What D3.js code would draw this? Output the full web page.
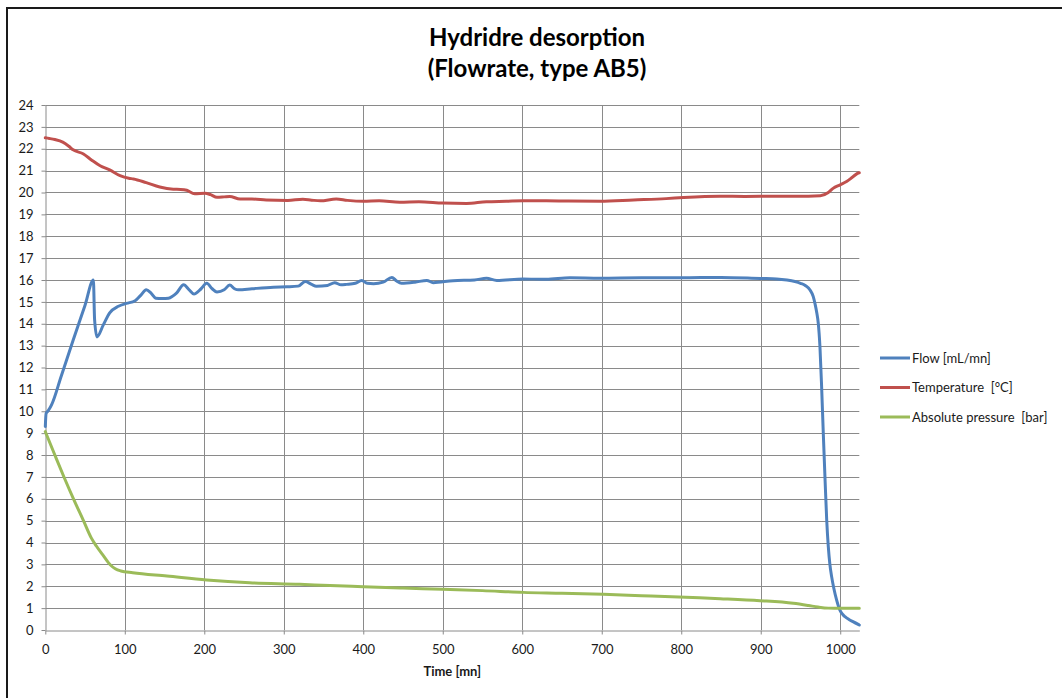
<!DOCTYPE html>
<html>
<head>
<meta charset="utf-8">
<script src="https://cdn.jsdelivr.net/npm/d3@7"></script>
<style>
  html, body { margin: 0; padding: 0; background: #fff; }
  svg { display: block; }
  text { font-family: Lato, "Noto Sans", sans-serif; }
  .legend-label { white-space: pre; }
</style>
</head>
<body>
<svg id="chart" width="1062" height="698"></svg>
<script>
// ---- data -------------------------------------------------------------
const seriesNames = ["Flow [mL/mn]", "Temperature  [°C]", "Absolute pressure  [bar]"];
const seriesColors = ["#4F81BD", "#C0504D", "#9BBB59"];

// Flow [mL/mn] : [time (mn), value]
const flowData = [
  [0,9.3],[1,9.9],[3,10.0],[5,10.1],[8,10.3],[20,11.6],[35,13.25],[50,14.85],
  [60.5,16.0],[62,14.2],[65,13.4],[73,13.95],[81,14.5],[92,14.8],[102,14.93],
  [113,15.05],[120,15.3],[127,15.55],[133,15.4],[139,15.17],[147,15.15],[155,15.17],
  [165,15.4],[174,15.78],[181,15.55],[187,15.36],[196,15.6],[203,15.85],[210,15.6],
  [216,15.45],[225,15.55],[232,15.77],[238,15.6],[243,15.55],[260,15.6],[287,15.67],
  [304,15.69],[318,15.72],[327,15.93],[335,15.8],[341,15.72],[355,15.75],[364,15.88],
  [372,15.78],[379,15.8],[390,15.85],[398,15.98],[405,15.85],[413,15.83],[425,15.9],
  [436,16.12],[442,15.95],[448,15.85],[465,15.9],[480,15.98],[488,15.88],[513,15.97],
  [540,16.0],[555,16.08],[568,15.98],[601,16.05],[630,16.03],[660,16.1],[698,16.08],
  [750,16.1],[800,16.1],[850,16.12],[900,16.07],[920,16.05],[933,16.0],[943,15.93],
  [950,15.85],[956,15.75],[962,15.54],[966,15.25],[968.2,14.93],[970.5,14.5],
  [972.4,14.02],[974.5,12.95],[976.6,11.12],[978.7,8.99],[981,6.8],[983,5.03],
  [985,3.81],[987,3.0],[989.2,2.44],[992,1.9],[995.5,1.37],[999.6,0.91],[1003,0.72],
  [1006,0.61],[1011,0.48],[1016,0.38],[1024,0.23]
];

// Temperature [°C]
const temperatureData = [
  [0,22.5],[5,22.47],[12,22.42],[22,22.3],[30,22.1],[35,21.95],[48,21.76],[58,21.49],
  [69,21.22],[81,21.03],[94,20.77],[105,20.65],[111,20.62],[127,20.45],[144,20.25],
  [161,20.15],[170,20.14],[178,20.1],[188,19.94],[201,19.97],[208,19.9],[216,19.78],
  [225,19.8],[232,19.82],[245,19.7],[260,19.7],[278,19.66],[305,19.64],[324,19.69],
  [335,19.65],[346,19.62],[366,19.7],[380,19.64],[400,19.6],[420,19.62],[446,19.56],
  [470,19.58],[500,19.52],[530,19.5],[555,19.58],[580,19.6],[601,19.62],[630,19.62],
  [656,19.61],[698,19.6],[740,19.66],[781,19.72],[803,19.77],[849,19.83],[880,19.82],
  [920,19.83],[960,19.83],[975,19.85],[985,20.0],[991,20.19],[1000,20.35],[1008,20.5],
  [1016,20.72],[1022,20.88],[1024,20.9]
];

// Absolute pressure [bar]
const pressureData = [
  [0,9.07],[12,8.0],[24,6.95],[36,5.95],[48,5.0],[58,4.2],[64,3.85],[73,3.4],
  [82,2.97],[88,2.8],[95,2.7],[110,2.62],[153,2.47],[203,2.29],[257,2.16],[320,2.09],
  [358,2.03],[400,1.98],[450,1.92],[500,1.86],[550,1.8],[601,1.72],[650,1.68],
  [702,1.63],[750,1.57],[823,1.47],[849,1.43],[899,1.34],[941,1.22],[960,1.12],
  [972,1.05],[985,1.0],[1000,0.99],[1024,0.99]
];

const xTicks = d3.range(0, 1001, 100);
const yTicks = d3.range(0, 25, 1);
const titleLines = ["Hydridre desorption", "(Flowrate, type AB5)"];
const xAxisTitle = "Time [mn]";

// ---- layout -----------------------------------------------------------
const svg = d3.select("#chart");
const plot = { left: 45.3, right: 859.3, top: 105, bottom: 630 };

const x = d3.scaleLinear().domain([0, 1024]).range([plot.left, plot.right]);
const y = d3.scaleLinear().domain([0, 24]).range([plot.bottom, plot.top]);

// outer chart frame
svg.append("rect")
  .attr("x", 7).attr("y", 8)
  .attr("width", 1100).attr("height", 800)
  .attr("fill", "#fff")
  .attr("stroke", "#1a1a1a").attr("stroke-width", 2);

// title
const title = svg.append("text")
  .attr("text-anchor", "middle")
  .attr("font-weight", "bold")
  .attr("font-size", 24)
  .attr("fill", "#000");
title.selectAll("tspan").data(titleLines).join("tspan")
  .attr("x", 537)
  .attr("y", (d, i) => 46 + i * 31)
  .text(d => d);

const gridColor = "#8a8a8a";

// horizontal gridlines
svg.append("g").selectAll("line").data(yTicks.filter(d => d > 0)).join("line")
  .attr("x1", plot.left).attr("x2", plot.right)
  .attr("y1", d => Math.round(y(d)) + 0.5).attr("y2", d => Math.round(y(d)) + 0.5)
  .attr("stroke", gridColor).attr("stroke-width", 1);

// vertical gridlines
svg.append("g").selectAll("line").data(xTicks.filter(d => d > 0)).join("line")
  .attr("y1", plot.top).attr("y2", plot.bottom)
  .attr("x1", d => Math.round(x(d)) + 0.5).attr("x2", d => Math.round(x(d)) + 0.5)
  .attr("stroke", gridColor).attr("stroke-width", 1);

// y axis
const yAxis = svg.append("g")
  .attr("transform", `translate(${Math.round(plot.left) + 0.5},0)`)
  .call(d3.axisLeft(y).tickValues(yTicks).tickFormat(d3.format("d"))
    .tickSize(4).tickPadding(8).tickSizeOuter(0));
yAxis.select(".domain").attr("stroke", gridColor);
yAxis.selectAll(".tick line").attr("stroke", gridColor);
yAxis.selectAll(".tick text")
  .attr("font-family", "Lato, sans-serif").attr("font-size", 13).attr("fill", "#1a1a1a");

// x axis
const xAxis = svg.append("g")
  .attr("transform", `translate(0,${Math.round(plot.bottom) + 0.5})`)
  .call(d3.axisBottom(x).tickValues(xTicks).tickFormat(d3.format("d"))
    .tickSize(4).tickSizeOuter(0));
xAxis.select(".domain").attr("stroke", gridColor);
xAxis.selectAll(".tick line").attr("stroke", gridColor);
xAxis.selectAll(".tick text")
  .attr("font-family", "Lato, sans-serif").attr("font-size", 13).attr("fill", "#1a1a1a")
  .attr("y", 23).attr("dy", 0);

// x axis title
svg.append("text")
  .attr("x", (plot.left + plot.right) / 2).attr("y", 676)
  .attr("text-anchor", "middle")
  .attr("font-weight", "bold").attr("font-size", 13).attr("fill", "#1a1a1a")
  .text(xAxisTitle);

// series lines
const line = d3.line()
  .x(d => x(d[0]))
  .y(d => y(d[1]))
  .curve(d3.curveMonotoneX);

const allSeries = [flowData, temperatureData, pressureData];
svg.append("g").selectAll("path").data(allSeries).join("path")
  .attr("d", d => line(d))
  .attr("fill", "none")
  .attr("stroke", (d, i) => seriesColors[i])
  .attr("stroke-width", 3)
  .attr("stroke-linejoin", "round")
  .attr("stroke-linecap", "round");

// legend
const legend = svg.append("g").selectAll("g").data(seriesNames).join("g")
  .attr("transform", (d, i) => `translate(880,${358 + i * 29.5})`);
legend.append("line")
  .attr("x1", 0).attr("x2", 30).attr("y1", 0).attr("y2", 0)
  .attr("stroke", (d, i) => seriesColors[i]).attr("stroke-width", 3);
legend.append("text")
  .attr("class", "legend-label")
  .attr("x", 32).attr("y", 0).attr("dy", "0.35em")
  .attr("font-size", 13).attr("fill", "#1a1a1a")
  .text(d => d);
</script>
</body>
</html>
